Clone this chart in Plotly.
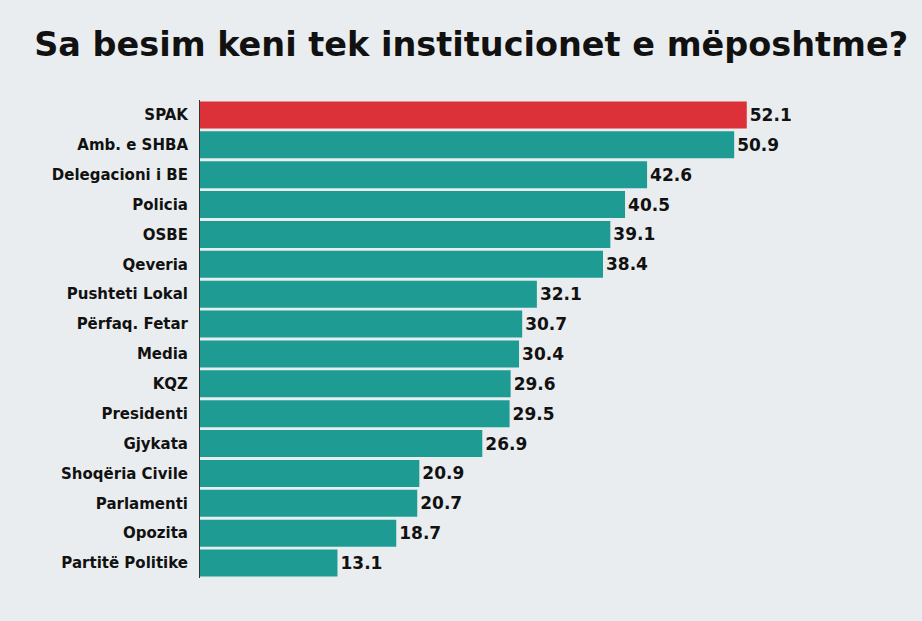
import plotly.graph_objects as go

# Trust in institutions (%)
institutions = ['SPAK', 'Amb. e SHBA', 'Delegacioni i BE', 'Policia', 'OSBE', 'Qeveria',
                'Pushteti Lokal', 'Përfaq. Fetar', 'Media', 'KQZ', 'Presidenti', 'Gjykata',
                'Shoqëria Civile', 'Parlamenti', 'Opozita', 'Partitë Politike']
values = [52.1, 50.9, 42.6, 40.5, 39.1, 38.4, 32.1, 30.7, 30.4, 29.6, 29.5, 26.9,
          20.9, 20.7, 18.7, 13.1]

colors = ['#dc3139' if name == 'SPAK' else '#1e9c94' for name in institutions]

fig = go.Figure()
fig.add_trace(go.Bar(
    x=values, y=institutions, orientation='h',
    marker=dict(color=colors, line=dict(width=0)),
    text=[f'{v:.1f}' for v in values], textposition='outside',
    textfont=dict(family='DejaVu Sans', size=17, color='#111111', weight='bold'),
    cliponaxis=False, hoverinfo='x+y',
))

fig.update_layout(
    width=922, height=621,
    title=dict(text='<b>Sa besim keni tek institucionet e mëposhtme?</b>',
               x=0.511, xanchor='center', y=0.928, yanchor='middle',
               font=dict(family='DejaVu Sans', size=33.5, color='#111111')),
    paper_bgcolor='#eaedef', plot_bgcolor='rgba(0,0,0,0)',
    margin=dict(l=200, r=22, t=100, b=43),
    bargap=0.1, showlegend=False,
)
fig.update_xaxes(range=[0, 66.7], visible=False)
fig.update_yaxes(autorange='reversed', showline=True, linecolor='#333333', linewidth=1,
                 ticks='', ticklabelstandoff=8, showgrid=False,
                 tickfont=dict(family='DejaVu Sans', size=15, color='#111111', weight='bold'))

fig.write_html('out.html', config={'displayModeBar': False},
               post_script="document.body.style.margin='0';")
